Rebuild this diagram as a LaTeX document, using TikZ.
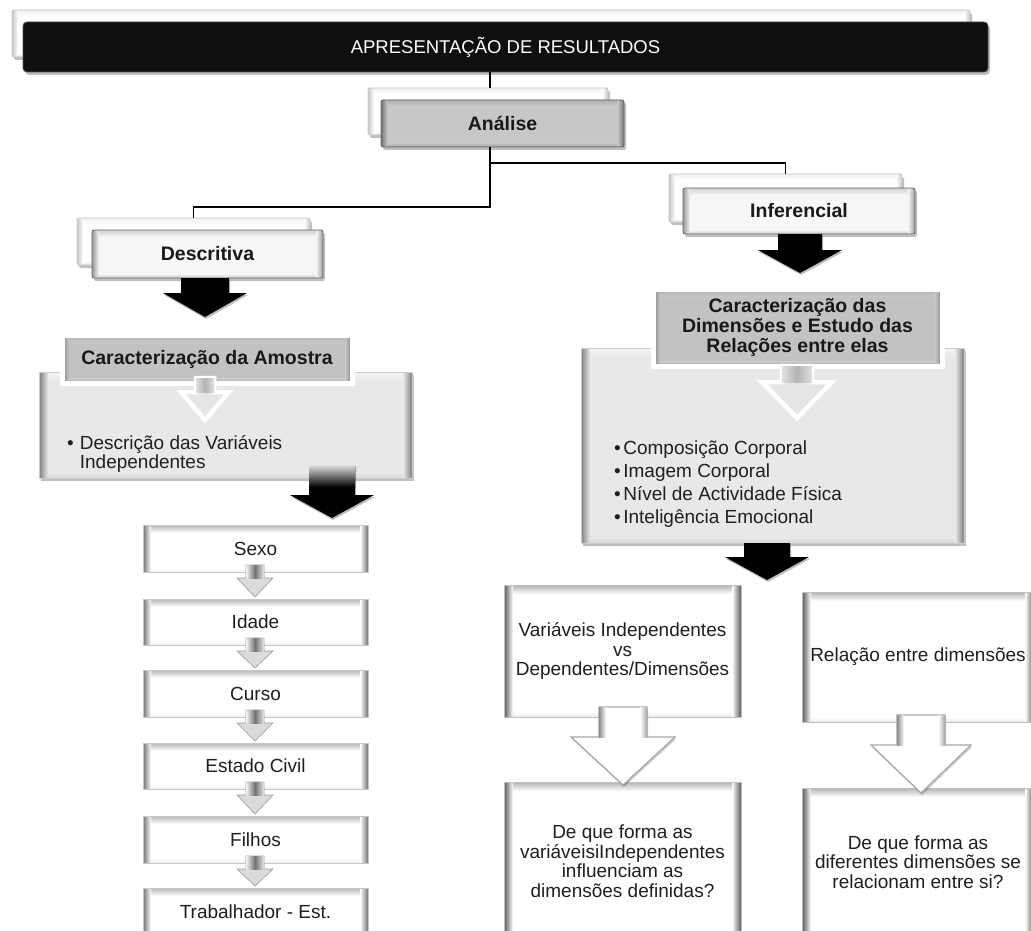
\documentclass[tikz,border=0pt]{standalone}
\usepackage{fontspec}
\setmainfont{Liberation Sans}
\usetikzlibrary{shadows}

\newcommand\blackarrow[6]{%
  \fill[black, drop shadow={shadow xshift=1pt, shadow yshift=-2pt, opacity=0.25, fill=black}]
    (#1-#5,#2) -- (#1+#5,#2) -- (#1+#5,#3) -- (#1+#6,#3) -- (#1,#4) -- (#1-#6,#3) -- (#1-#5,#3) -- cycle;}
\newcommand\hollowarrow[6]{%
  \filldraw[fill=white, draw=black!35, line width=1.2pt, line join=miter, drop shadow={shadow xshift=1pt, shadow yshift=-2pt, opacity=0.2, fill=black}]
    (#1-#5,#2) -- (#1+#5,#2) -- (#1+#5,#3) -- (#1+#6,#3) -- (#1,#4) -- (#1-#6,#3) -- (#1-#5,#3) -- cycle;
  \shade[left color=black!45, right color=white] (#1-#5,#2) rectangle (#1-#5+7,#3);
  \shade[left color=white, right color=black!35] (#1+#5-7,#2) rectangle (#1+#5,#3);}
\newcommand\panelarrow[6]{%
  \filldraw[fill=black!10, draw=white, line width=4.5pt, line join=miter, miter limit=10]
    (#1-#5,#2) -- (#1+#5,#2) -- (#1+#5,#3) -- (#1+#6,#3) -- (#1,#4) -- (#1-#6,#3) -- (#1-#5,#3) -- cycle;
  \shade[left color=black!12, right color=black!12, middle color=black!30] (#1-#5,#2) rectangle (#1+#5,#3);}
\newcommand\smallarrow[6]{%
  \filldraw[fill=black!14, draw=black!40, line width=0.6pt, line join=miter]
    (#1-#5,#2) -- (#1+#5,#2) -- (#1+#5,#3) -- (#1+#6,#3) -- (#1,#4) -- (#1-#6,#3) -- (#1-#5,#3) -- cycle;
  \shade[left color=black!5, right color=black!10, middle color=black!55] (#1-#5,#2) rectangle (#1+#5,#3);}

\tikzset{
  sz/.style 2 args={minimum width=#1pt, minimum height=#2pt},
  txt/.style={font=\fontsize{19}{19.5}\selectfont, text=black!88, align=center, inner sep=0pt},
  btxt/.style={font=\fontsize{19.5}{20}\selectfont\bfseries, text=black!90, align=center, inner sep=0pt},
  shd/.style={drop shadow={shadow xshift=2pt, shadow yshift=-3pt, opacity=0.25, fill=black}},
  bevel/.style n args={5}{path picture={
      \path (path picture bounding box.south west) coordinate (pbsw)
            (path picture bounding box.north east) coordinate (pbne)
            (path picture bounding box.north west) coordinate (pbnw)
            (path picture bounding box.south east) coordinate (pbse);
      \shade[top color=#3, bottom color=#4] (pbnw) rectangle ([yshift=-#1pt]pbne);
      \shade[top color=#4, bottom color=#5] ([yshift=#1*0.6pt]pbsw) rectangle (pbse);
      \shade[left color=#2, right color=#4] (pbsw) rectangle ([xshift=#1pt]pbnw);
      \shade[left color=#4, right color=#2] ([xshift=-#1pt]pbse) rectangle (pbne);
  }},
  backbox/.style={shd, fill=white, draw=black!22, line width=0.8pt, rounded corners=2pt, bevel={6}{black!22}{black!6}{white}{black!12}},
  titlebox/.style={shd, fill=black!94, draw=black!70, line width=0.8pt, rounded corners=4pt, text=white, font=\fontsize{18.5}{19}\selectfont, inner sep=0pt},
  graybox/.style={shd, btxt, fill=black!22, draw=black!60, line width=0.8pt, rounded corners=2pt, bevel={7}{black!55}{black!32}{black!20}{black!40}},
  lightbox/.style={shd, btxt, fill=black!3, draw=black!60, line width=0.8pt, rounded corners=2pt, bevel={7}{black!40}{black!18}{black!3}{black!22}},
  graytitle/.style={shd, btxt, fill=black!24, draw=white, line width=5pt, bevel={7}{black!50}{black!32}{black!22}{black!36}},
  panelbox/.style={shd, fill=black!9, draw=black!20, line width=0.6pt, bevel={9}{black!50}{black!4}{black!9}{black!16}},
  listbox/.style={txt, fill=white, draw=black!22, line width=0.6pt, bevel={8}{black!55}{black!28}{white}{black!6}},
  qbox/.style={txt, fill=white, draw=black!25, line width=0.6pt, bevel={9}{black!65}{black!30}{white}{black!8}},
  conn/.style={line width=1.6pt, black},
}

\begin{document}
\begin{tikzpicture}[x=1pt,y=-1pt]
\useasboundingbox (0,0) rectangle (1031,931);
\fill[white] (0,0) rectangle (1031,931);

% title
\node[backbox, sz={958}{47}] (titleB) at (491,33.5) {};
\node[titlebox, sz={965}{50}] (title) at (505.5,47) {APRESENTAÇÃO DE RESULTADOS};

% second and third level
\node[backbox, sz={240}{47}] (anaB) at (488,111.5) {};
\node[graybox, sz={243}{47}] (ana) at (502.5,123.5) {Análise};
\node[backbox, sz={233}{47}] (descB) at (193.5,241.5) {};
\node[lightbox, sz={231}{48}] (desc) at (207.5,254) {Descritiva};
\node[backbox, sz={233}{48}] (infB) at (785.5,198) {};
\node[lightbox, sz={232}{46}] (inf) at (799,211) {Inferencial};

% connectors
\coordinate (trunk) at (490,0);
\coordinate (j1) at (490,163);
\coordinate (j2) at (490,207);
\draw[conn] (title.south -| trunk) -- (anaB.north -| trunk);
\draw[conn] (ana.south -| trunk) -- (j1) -| (infB.north);
\draw[conn] (ana.south -| trunk) -- (j2) -| (descB.north);

% Amostra
\blackarrow{205}{278}{293}{317}{24}{42}
\node[panelbox, sz={373}{106}] (amP) at (225.5,425) {};
\node[graytitle, sz={290}{48}] (amT) at (207,359) {Caracterização da Amostra};
\panelarrow{205}{378}{392}{420}{9}{24}
\node[txt, align=left, anchor=west] (amText) at (67,454) {•\hspace{6pt}Descrição das Variáveis\\\phantom{•}\hspace{6pt}Independentes};

% Dimensoes
\blackarrow{800}{234}{250}{273}{22}{42}
\node[panelbox, sz={383}{195}] (dimP) at (772.5,445.5) {};
\node[graytitle, sz={289}{77}] (dimT) at (797.5,327.5) {Caracterização das\\Dimensões e Estudo das\\Relações entre elas};
\panelarrow{797}{366}{382}{418}{15}{35}
\node[txt, align=left, anchor=west, font=\fontsize{19}{23}\selectfont] (dimText) at (614,484) {•\hspace{2.5pt}Composição Corporal\\•\hspace{2.5pt}Imagem Corporal\\•\hspace{2.5pt}Nível de Actividade Física\\•\hspace{2.5pt}Inteligência Emocional};

% list
\blackarrow{332}{465}{495}{518}{23}{42}
\shade[top color=black!12, bottom color=black] (309,465) rectangle (355,487);
\node[listbox, sz={225}{47}] (sexo) at (255.5,548.5) {Sexo};
\node[listbox, sz={225}{46}] (idade) at (255.5,622) {Idade};
\node[listbox, sz={225}{47}] (curso) at (255.5,693.5) {Curso};
\node[listbox, sz={225}{46}] (civil) at (255.5,766) {Estado Civil};
\node[listbox, sz={225}{47}] (filhos) at (255.5,839.5) {Filhos};
\node[listbox, sz={225}{47}] (trab) at (255.5,911.5) {Trabalhador - Est.};
\smallarrow{255}{565}{578}{597}{9}{18}
\smallarrow{255}{638}{651}{668}{9}{18}
\smallarrow{255}{710}{723}{741}{9}{18}
\smallarrow{255}{782}{795}{814}{9}{18}
\smallarrow{255}{856}{869}{886}{9}{18}

% bottom
\node[qbox, sz={237}{132}] (vi) at (622.5,651) {Variáveis Independentes\\vs\\Dependentes/Dimensões};
\node[qbox, sz={232}{130}] (rel) at (918,657) {Relação entre dimensões};
\node[qbox, sz={237}{158}] (q1) at (622.5,861) {De que forma as\\variáveisiIndependentes\\influenciam as\\dimensões definidas?};
\node[qbox, sz={232}{148}] (q2) at (918,862) {De que forma as\\diferentes dimensões se\\relacionam entre si?};
\hollowarrow{623}{707}{737}{785}{24}{52}
\hollowarrow{921}{715}{745}{793}{24}{50}
\blackarrow{767}{543}{557}{580}{23}{42}
\end{tikzpicture}
\end{document}
